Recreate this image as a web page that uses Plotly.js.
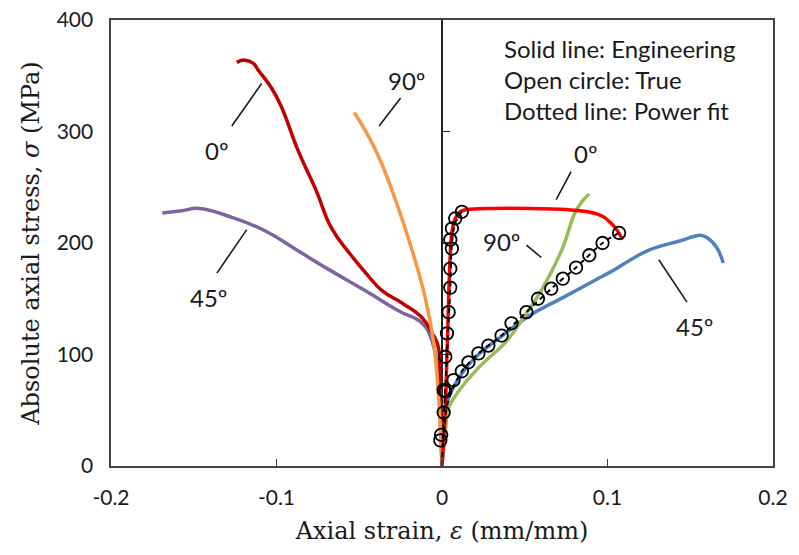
<!DOCTYPE html>
<html>
<head>
<meta charset="utf-8">
<script src="https://cdn.plot.ly/plotly-3.0.1.min.js"></script>
<style>
  html, body { margin: 0; padding: 0; background: #ffffff; }
  #chart { width: 799px; height: 555px; }
</style>
</head>
<body>
<div id="chart"></div>
<script>
// Compression side (negative strain): engineering stress-strain curves
const comp0Strain  = [0, -0.001, -0.002, -0.004, -0.006, -0.012, -0.024, -0.036, -0.046, -0.056, -0.067, -0.076, -0.087, -0.097, -0.103, -0.111, -0.114, -0.119, -0.124];
const comp0Stress  = [0, 60, 105, 114, 119, 133, 146, 157, 173, 191, 214, 247, 283, 322, 339, 355, 361, 364, 362];

const comp45Strain = [0, -0.001, -0.003, -0.006, -0.012, -0.026, -0.046, -0.067, -0.087, -0.107, -0.127, -0.147, -0.157, -0.169];
const comp45Stress = [0, 40, 90, 112, 128, 139, 157, 175, 193, 211, 223, 231, 229, 227];

const comp90Strain = [0, -0.002, -0.005, -0.010, -0.018, -0.028, -0.040, -0.053];
const comp90Stress = [0, 60, 110, 150, 193, 238, 283, 317];

// Tension side (positive strain): engineering stress-strain curves
const ten0Strain  = [0, 0.002, 0.003, 0.004, 0.005, 0.006, 0.008, 0.011, 0.015, 0.030, 0.053, 0.075, 0.088, 0.097, 0.102, 0.106, 0.109];
const ten0Stress  = [0, 50, 100, 150, 190, 210, 222, 228, 230, 231, 231, 230, 228, 224, 218, 211, 203];

const ten45Strain = [0, 0.001, 0.004, 0.012, 0.022, 0.033, 0.053, 0.073, 0.093, 0.103, 0.124, 0.144, 0.156, 0.160, 0.166, 0.170];
const ten45Stress = [0, 30, 61, 83, 100, 113, 135, 151, 167, 175, 193, 202, 207, 205, 196, 182];

const ten90Strain = [0, 0.002, 0.004, 0.010, 0.022, 0.039, 0.051, 0.061, 0.073, 0.080, 0.085, 0.089];
const ten90Stress = [0, 30, 52, 67, 88, 112, 137, 160, 196, 226, 238, 244];

// True stress-strain points (open circles)
const true0Strain  = [-0.001, -0.0005, 0.001, 0.001, 0.002, 0.003, 0.004, 0.005, 0.005, 0.006, 0.005, 0.006, 0.008, 0.012];
const true0Stress  = [23, 28, 48, 68, 98, 119, 138, 160, 177, 195, 203, 213, 222, 228];

const true45Strain = [0.002, 0.007, 0.012, 0.016, 0.022, 0.028, 0.036, 0.042, 0.051, 0.058, 0.066, 0.073, 0.081, 0.089, 0.097, 0.107];
const true45Stress = [67, 77, 85, 93, 101, 108, 117, 128, 138, 150, 159, 168, 178, 189, 200, 209];

// Power-law fits through the true curves (dotted lines)
const fit0Strain  = [0, 0.001, 0.003, 0.005, 0.006, 0.008, 0.012];
const fit0Stress  = [0, 40, 100, 160, 200, 218, 228];
const fit45Strain = [0.001, 0.004, 0.012, 0.022, 0.036, 0.051, 0.066, 0.081, 0.097, 0.107];
const fit45Stress = [30, 60, 85, 101, 117, 138, 159, 178, 200, 209];

const xTicks = [-0.2, -0.1, 0, 0.1, 0.2];
const xTickText = ['-0.2', '-0.1', '0', '0.1', '0.2'];
const yTicks = [0, 100, 200, 300, 400];

const sansFont = 'Lato, "Open Sans", sans-serif';
const serifFont = '"DejaVu Serif", serif';
const inkColor = '#1a1a1a';

function curve(x, y, color, smooth) {
  return { x: x, y: y, type: 'scatter', mode: 'lines', showlegend: false, hoverinfo: 'skip',
           line: { color: color, width: 3.5, shape: 'spline', smoothing: smooth } };
}
function fit(x, y) {
  return { x: x, y: y, type: 'scatter', mode: 'lines', showlegend: false, hoverinfo: 'skip',
           line: { color: '#000000', width: 2, dash: '5px,4px', shape: 'spline', smoothing: 0.8 } };
}
function circles(x, y) {
  return { x: x, y: y, type: 'scatter', mode: 'markers', showlegend: false, hoverinfo: 'skip',
           marker: { symbol: 'circle-open', size: 12.5, color: '#000000', line: { width: 1.8, color: '#000000' } } };
}

const traces = [
  curve(comp45Strain, comp45Stress, '#8064A2', 1.3),
  curve(comp0Strain, comp0Stress, '#C00000', 1.3),
  curve(comp90Strain, comp90Stress, '#F79646', 1.3),
  curve(ten45Strain, ten45Stress, '#4F81BD', 1.0),
  curve(ten90Strain, ten90Stress, '#9BBB59', 1.0),
  curve(ten0Strain, ten0Stress, '#FF0000', 1.0),
  fit(fit0Strain, fit0Stress),
  fit(fit45Strain, fit45Stress),
  circles(true0Strain, true0Stress),
  circles(true45Strain, true45Stress),
  // invisible trace to carry the tick marks of the vertical axis at zero strain
  { x: [0], y: [0], yaxis: 'y2', type: 'scatter', mode: 'markers', marker: { opacity: 0 }, showlegend: false, hoverinfo: 'skip' }
];

// Orientation labels and their leader lines
const labelFont = { family: sansFont, size: 24, color: inkColor };
const labels = [
  { text: '0º',  x: -0.136, y: 283 },
  { text: '90º', x: -0.021, y: 346 },
  { text: '45º', x: -0.141, y: 151 },
  { text: '0º',  x: 0.087,  y: 280 },
  { text: '90º', x: 0.036,  y: 201 },
  { text: '45º', x: 0.153,  y: 125 }
];
const leaders = [
  [-0.127, 305, -0.109, 343],
  [-0.038, 305, -0.025, 330],
  [-0.136, 173, -0.118, 212],
  [0.069, 239, 0.078, 264],
  [0.051, 198, 0.060, 187],
  [0.131, 185, 0.148, 147]
];

const annotations = labels.map(l => ({
  text: l.text, x: l.x, y: l.y, xref: 'x', yref: 'y', showarrow: false, font: labelFont
}));
annotations.push({
  text: 'Solid line: Engineering<br>Open circle: True<br>Dotted line: Power fit',
  xref: 'paper', yref: 'paper', x: 0.59, y: 0.972, xanchor: 'left', yanchor: 'top',
  align: 'left', showarrow: false, font: { family: sansFont, size: 24, color: inkColor }
});

const shapes = leaders.map(s => ({
  type: 'line', xref: 'x', yref: 'y', x0: s[0], y0: s[1], x1: s[2], y1: s[3],
  line: { color: inkColor, width: 1.6 }
}));

const layout = {
  width: 799, height: 555,
  margin: { l: 111, r: 26, t: 20, b: 89 },
  paper_bgcolor: '#ffffff', plot_bgcolor: '#ffffff',
  showlegend: false,
  xaxis: {
    range: [-0.2, 0.2], tickvals: xTicks, ticktext: xTickText,
    showgrid: false, zeroline: true, zerolinecolor: '#222222', zerolinewidth: 1.6,
    showline: true, linecolor: '#444444', linewidth: 1.6, mirror: true,
    ticks: 'inside', ticklen: 7, tickwidth: 1.4, tickcolor: '#444444',
    ticklabelstandoff: 12,
    tickfont: { family: sansFont, size: 21, color: inkColor },
    title: { text: 'Axial strain, <i>ε</i> (mm/mm)', font: { family: serifFont, size: 24, color: inkColor }, standoff: 14 },
    fixedrange: true
  },
  yaxis: {
    range: [0, 400], tickvals: yTicks,
    showgrid: false, zeroline: false,
    showline: true, linecolor: '#444444', linewidth: 1.6, mirror: true,
    ticks: '', ticklabelstandoff: 12,
    tickfont: { family: sansFont, size: 21, color: inkColor },
    title: { text: 'Absolute axial stress, <i>σ</i> (MPa)', font: { family: serifFont, size: 24, color: inkColor }, standoff: 10 },
    fixedrange: true
  },
  yaxis2: {
    range: [0, 400], tickvals: yTicks, overlaying: 'y', anchor: 'free', position: 0.5, side: 'left',
    showgrid: false, zeroline: false, showline: false, showticklabels: false,
    ticks: 'inside', ticklen: 7, tickwidth: 1.4, tickcolor: '#222222', fixedrange: true
  },
  annotations: annotations,
  shapes: shapes
};

Plotly.newPlot('chart', traces, layout, { staticPlot: true, displayModeBar: false });
</script>
</body>
</html>
